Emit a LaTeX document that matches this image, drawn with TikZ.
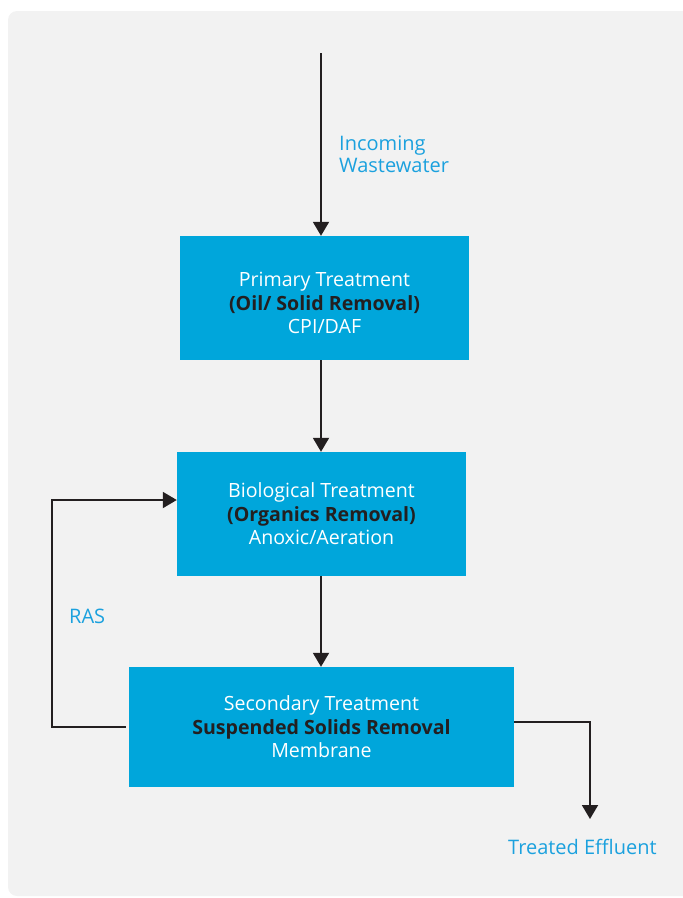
\documentclass[tikz,border=0pt]{standalone}
\usepackage{fontspec}
\setmainfont{Open Sans}
\usetikzlibrary{arrows.meta}
\definecolor{boxblue}{RGB}{0,166,219}
\definecolor{txtblue}{RGB}{27,161,222}
\definecolor{bggray}{RGB}{242,242,242}
\definecolor{ink}{RGB}{35,31,32}
\begin{document}
\begin{tikzpicture}[x=1pt,y=-1pt,
  stagebox/.style={fill=boxblue,draw=none,inner sep=0pt,align=center,text=white,font=\fontsize{19.6}{23.5}\selectfont},
  stagetext/.style={inner sep=0pt,align=center,text=white,font=\fontsize{19.6}{23.5}\selectfont},
  lbl/.style={text=txtblue,font=\fontsize{20}{22.5}\selectfont,align=left,inner sep=0pt},
  flow/.style={draw=ink,line width=1.9pt,-{Triangle[length=14pt,width=16pt]}}]
\useasboundingbox (0,0) rectangle (683,898);
\fill[bggray,rounded corners=9pt] (8,11) rectangle (695,896);
\node[stagebox,minimum width=289pt,minimum height=124pt] (p) at (324.5,298) {};
\node[stagetext] (pt) at ([yshift=-5pt]p.center) {Primary Treatment\\\textcolor{ink}{\bfseries (Oil/ Solid Removal)}\\CPI/DAF};
\node[stagebox,minimum width=289pt,minimum height=124pt] (b) at (321.5,514) {Biological Treatment\\\textcolor{ink}{\bfseries (Organics Removal)}\\Anoxic/Aeration};
\node[stagebox,minimum width=385pt,minimum height=120pt] (s) at (321.5,727) {Secondary Treatment\\\textcolor{ink}{\bfseries Suspended Solids Removal}\\Membrane};
\coordinate (in) at (321,53);
\coordinate (out) at (590,819);
\node[lbl,anchor=north west] (inl) at (339,135.5) {Incoming\\Wastewater};
\node[lbl,anchor=west] (ras) at (69,616) {RAS};
\node[lbl,anchor=west] (eff) at (508,847) {Treated Effluent};
\draw[flow] (in) -- (p.north -| in);
\draw[flow] (p.south -| in) -- (b.north -| in);
\draw[flow] (b.south -| in) -- (s.north -| in);
\draw[flow] ([xshift=-3pt]s.west) -- ++(-74,0) |- (b.west |- 0,500);
\draw[flow] ([yshift=5pt]s.east) -| (out);
\end{tikzpicture}
\end{document}
